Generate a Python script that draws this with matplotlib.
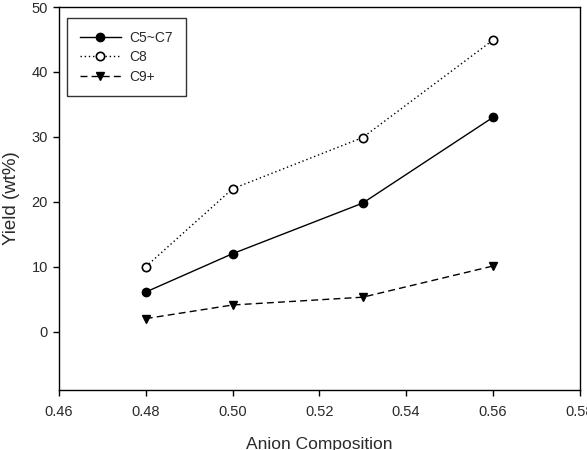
import matplotlib
matplotlib.use("Agg")
import matplotlib.pyplot as plt

x = [0.48, 0.50, 0.53, 0.56]
c5_c7 = [6.1, 12.0, 19.8, 33.0]
c8 = [10.0, 22.0, 29.9, 44.9]
c9 = [2.0, 4.1, 5.3, 10.1]
labels = ["C5~C7", "C8", "C9+"]
xticks = [0.46, 0.48, 0.50, 0.52, 0.54, 0.56, 0.58]
yticks = [0, 10, 20, 30, 40, 50]

txt = '#2a2a2a'
plt.rcParams['font.family'] = ['Liberation Sans', 'DejaVu Sans']
fig = plt.figure(figsize=(5.87, 4.5), dpi=100)
ax = fig.add_axes([0.1005, 0.1333, 0.887, 0.851])

ax.plot(x, c5_c7, color='black', linestyle='-', linewidth=1, marker='o', markersize=6,
        markerfacecolor='black', label=labels[0])
ax.plot(x, c8, color='black', linestyle=(0, (1, 2)), linewidth=1, marker='o', markersize=6,
        markerfacecolor='white', markeredgewidth=1.2, label=labels[1])
ax.plot(x, c9, color='black', linestyle=(0, (5, 3)), linewidth=1, marker='v', markersize=6,
        markerfacecolor='black', label=labels[2])

ax.set_xlim(0.46, 0.58)
ax.set_ylim(-9, 50)
ax.set_xticks(xticks)
ax.set_xticklabels([f"{t:.2f}" for t in xticks])
ax.set_yticks(yticks)
ax.tick_params(direction='out', length=4, width=1, labelsize=10.5, colors='black',
               labelcolor=txt)
ax.tick_params(axis='x', pad=7)
ax.tick_params(axis='y', pad=4)
for s in ax.spines.values():
    s.set_linewidth(1)

ax.set_xlabel("Anion Composition", fontsize=12.5, labelpad=13, color=txt)
ax.set_ylabel("Yield (wt%)", fontsize=13.5, labelpad=8, color=txt)

leg = ax.legend(loc='upper left', fontsize=10, frameon=True, fancybox=False,
                edgecolor='black', handlelength=3.0, handletextpad=0.6, borderpad=0.9,
                labelspacing=0.4, borderaxespad=0, bbox_to_anchor=(0.0154, 0.971))
leg.get_frame().set_linewidth(1)
for t in leg.get_texts():
    t.set_color(txt)

fig.savefig("out.png", dpi=100)
